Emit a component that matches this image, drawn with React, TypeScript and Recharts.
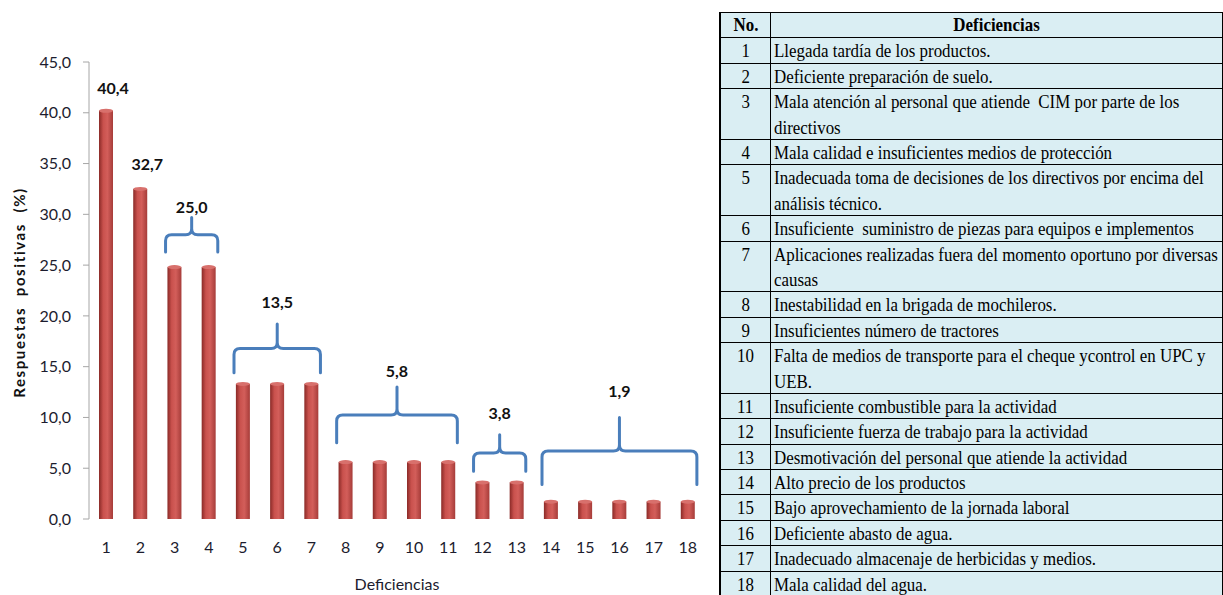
import React from "react";
import {
  Bar,
  BarChart,
  ReferenceDot,
  ReferenceLine,
  XAxis,
  YAxis,
} from "recharts";

const categories = [1, 2, 3, 4, 5, 6, 7, 8, 9, 10, 11, 12, 13, 14, 15, 16, 17, 18];
const values = [40.4, 32.7, 25.0, 25.0, 13.5, 13.5, 13.5, 5.8, 5.8, 5.8, 5.8, 3.8, 3.8, 1.9, 1.9, 1.9, 1.9, 1.9];
const yTicks = [0, 5, 10, 15, 20, 25, 30, 35, 40, 45];

// groups of bars sharing one value label (braces over groups of 2+)
const groupStart = [1, 2, 3, 5, 8, 12, 14];
const groupEnd = [1, 2, 4, 7, 11, 13, 18];
const groupLabels = ["40,4", "32,7", "25,0", "13,5", "5,8", "3,8", "1,9"];
const braceBottom = [null, null, 26.3, 14.4, 7.5, 4.7, 3.4];
const braceTop = [null, null, 29.7, 19.2, 13.0, 8.3, 10.0];
const labelLevel = [42.5, 35.0, 30.8, 21.4, 14.6, 10.5, 12.7];

const tableNo = ["1", "2", "3", "4", "5", "6", "7", "8", "9", "10", "11", "12", "13", "14", "15", "16", "17", "18"];
const tableText = [
  ["Llegada tardía de los productos."],
  ["Deficiente preparación de suelo."],
  ["Mala atención al personal que atiende  CIM por parte de los", "directivos"],
  ["Mala calidad e insuficientes medios de protección"],
  ["Inadecuada toma de decisiones de los directivos por encima del", "análisis técnico."],
  ["Insuficiente  suministro de piezas para equipos e implementos"],
  ["Aplicaciones realizadas fuera del momento oportuno por diversas", "causas"],
  ["Inestabilidad en la brigada de mochileros."],
  ["Insuficientes número de tractores"],
  ["Falta de medios de transporte para el cheque ycontrol en UPC y", "UEB."],
  ["Insuficiente combustible para la actividad"],
  ["Insuficiente fuerza de trabajo para la actividad"],
  ["Desmotivación del personal que atiende la actividad"],
  ["Alto precio de los productos"],
  ["Bajo aprovechamiento de la jornada laboral"],
  ["Deficiente abasto de agua."],
  ["Inadecuado almacenaje de herbicidas y medios."],
  ["Mala calidad del agua."],
];

const data = categories.map((c, i) => ({ id: c, value: values[i] }));
const edgeTicks = [...categories.map((c) => c - 0.5), categories[categories.length - 1] + 0.5];

const FONT = "Lato, 'Open Sans', sans-serif";
const TEXT = "#1c1c2e";
const BRACE = "#4a7ebb";
const ROW = 25.4;

const Cylinder = (props: any) => {
  const { x, y, width, height } = props;
  if (!height || height <= 0) return null;
  const rx = width / 2;
  const ry = 2;
  return (
    <g>
      <rect x={x} y={y + ry} width={width} height={height - ry} fill="url(#cyl)" />
      <ellipse cx={x + rx} cy={y + ry} rx={rx} ry={ry} fill="#d8706c" />
    </g>
  );
};

const Brace = (props: any) => {
  const { x1, y1, x2, y2 } = props;
  if (x1 == null || y1 == null) return null;
  const left = x1 - 9;
  const right = x2 + 9;
  const mid = (left + right) / 2;
  const yMid = (y1 + y2) / 2;
  const r = 6;
  const d = [
    `M${left},${y1}`,
    `L${left},${yMid + r}`,
    `Q${left},${yMid} ${left + r},${yMid}`,
    `L${mid - r},${yMid}`,
    `Q${mid},${yMid} ${mid},${yMid - r}`,
    `L${mid},${y2}`,
    `M${mid},${yMid - r}`,
    `Q${mid},${yMid} ${mid + r},${yMid}`,
    `L${right - r},${yMid}`,
    `Q${right},${yMid} ${right},${yMid + r}`,
    `L${right},${y1}`,
  ].join(" ");
  return <path d={d} fill="none" stroke={BRACE} strokeWidth={3} strokeLinecap="round" />;
};

function Chart() {
  return (
    <BarChart width={715} height={595} data={data} margin={{ top: 62, right: 10, bottom: 0, left: 0 }}>
      <defs>
        <linearGradient id="cyl" x1="0" y1="0" x2="1" y2="0">
          <stop offset="0%" stopColor="#8a2a27" />
          <stop offset="30%" stopColor="#c9514d" />
          <stop offset="60%" stopColor="#d35e5a" />
          <stop offset="100%" stopColor="#a63c39" />
        </linearGradient>
      </defs>
      <XAxis
        xAxisId="edges"
        dataKey="id"
        type="number"
        domain={[0.5, 18.5]}
        ticks={edgeTicks}
        tick={false}
        tickSize={7}
        height={0}
        axisLine={{ stroke: "#a6a6a6" }}
        tickLine={{ stroke: "#a6a6a6" }}
      />
      <XAxis
        dataKey="id"
        type="number"
        domain={[0.5, 18.5]}
        ticks={categories}
        axisLine={false}
        tickLine={false}
        tickSize={0}
        tickMargin={23}
        height={76}
        tick={{ fontSize: 16, fill: TEXT, fontFamily: FONT }}
        label={(p: any) => {
          const vb = p.viewBox;
          return (
            <text
              x={vb.x + vb.width / 2}
              y={583}
              textAnchor="middle"
              dominantBaseline="central"
              fontFamily={FONT}
              fontSize={16}
              fill={TEXT}
            >
              Deficiencias
            </text>
          );
        }}
      />
      <YAxis
        domain={[0, 45]}
        ticks={yTicks}
        width={89}
        tickSize={6}
        tickMargin={12}
        axisLine={{ stroke: "#a6a6a6" }}
        tickLine={{ stroke: "#a6a6a6" }}
        tick={{ fontSize: 16, fill: TEXT, fontFamily: FONT }}
        tickFormatter={(v: number) => v.toFixed(1).replace(".", ",")}
        label={(p: any) => {
          const vb = p.viewBox;
          const cx = 19;
          const cy = vb.y + vb.height / 2 + 2;
          return (
            <text
              x={cx}
              y={cy}
              transform={`rotate(-90 ${cx} ${cy})`}
              textAnchor="middle"
              dominantBaseline="central"
              fontFamily={FONT}
              fontSize={15}
              fontWeight={700}
              letterSpacing={1.6}
              fill="#111"
              style={{ whiteSpace: "pre" }}
            >
              {"Respuestas  positivas  (%)"}
            </text>
          );
        }}
      />
      <Bar dataKey="value" barSize={14} shape={Cylinder} isAnimationActive={false} />
      {groupStart.map((s, i) =>
        braceBottom[i] == null ? null : (
          <ReferenceLine
            key={`brace-${i}`}
            segment={[
              { x: s, y: braceBottom[i] as number },
              { x: groupEnd[i], y: braceTop[i] as number },
            ]}
            shape={Brace}
          />
        )
      )}
      {groupStart.map((s, i) => {
        const single = s === groupEnd[i];
        return (
          <ReferenceDot
            key={`lbl-${i}`}
            x={(s + groupEnd[i]) / 2}
            y={labelLevel[i]}
            r={0}
            fill="none"
            stroke="none"
            label={(p: any) => (
              <text
                x={p.viewBox.x + (single ? 7 : 0)}
                y={p.viewBox.y}
                textAnchor="middle"
                dominantBaseline="central"
                fontFamily={FONT}
                fontSize={16}
                fontWeight={700}
                fill="#111"
              >
                {groupLabels[i]}
              </text>
            )}
          />
        );
      })}
    </BarChart>
  );
}

function DefTable() {
  const cellText: React.CSSProperties = {
    display: "inline-block",
    transform: "scaleX(0.89)",
    transformOrigin: "left center",
    whiteSpace: "pre",
  };
  return (
    <div
      style={{
        position: "absolute",
        left: 719,
        top: 12,
        width: 504,
        background: "#daeef3",
        borderTop: "1px solid #000",
        borderLeft: "2px solid #000",
        fontFamily: "'Liberation Serif', 'Times New Roman', serif",
        fontSize: 19,
        color: "#000",
        boxSizing: "border-box",
      }}
    >
      <div
        style={{
          display: "flex",
          height: ROW,
          boxSizing: "border-box",
          borderBottom: "1px solid #000",
          lineHeight: "24px",
          fontWeight: 700,
        }}
      >
        <div style={{ width: 49, borderRight: "1px solid #000", textAlign: "center" }}>
          <span style={{ ...cellText, transformOrigin: "center" }}>No.</span>
        </div>
        <div style={{ flex: 1, borderRight: "1px solid #000", textAlign: "center" }}>
          <span style={{ ...cellText, transformOrigin: "center" }}>Deficiencias</span>
        </div>
      </div>
      {tableNo.map((n, i) => {
        const lines = tableText[i];
        return (
          <div
            key={n}
            style={{
              display: "flex",
              height: lines.length * ROW,
              boxSizing: "border-box",
              borderBottom: "1px solid #000",
              lineHeight: `${ROW}px`,
            }}
          >
            <div style={{ width: 49, borderRight: "1px solid #000", textAlign: "center" }}>
              <span style={{ ...cellText, transformOrigin: "center" }}>{n}</span>
            </div>
            <div style={{ flex: 1, borderRight: "1px solid #000", paddingLeft: 3, overflow: "hidden" }}>
              {lines.map((l, k) => (
                <div key={k} style={{ height: k === lines.length - 1 ? ROW - 1 : ROW }}>
                  <span style={cellText}>{l}</span>
                </div>
              ))}
            </div>
          </div>
        );
      })}
    </div>
  );
}

export default function App() {
  return (
    <div
      style={{
        position: "absolute",
        left: 0,
        top: 0,
        width: 1223,
        height: 595,
        background: "#fff",
        overflow: "hidden",
      }}
    >
      <div style={{ position: "absolute", left: 0, top: 0 }}>
        <Chart />
      </div>
      <DefTable />
    </div>
  );
}
